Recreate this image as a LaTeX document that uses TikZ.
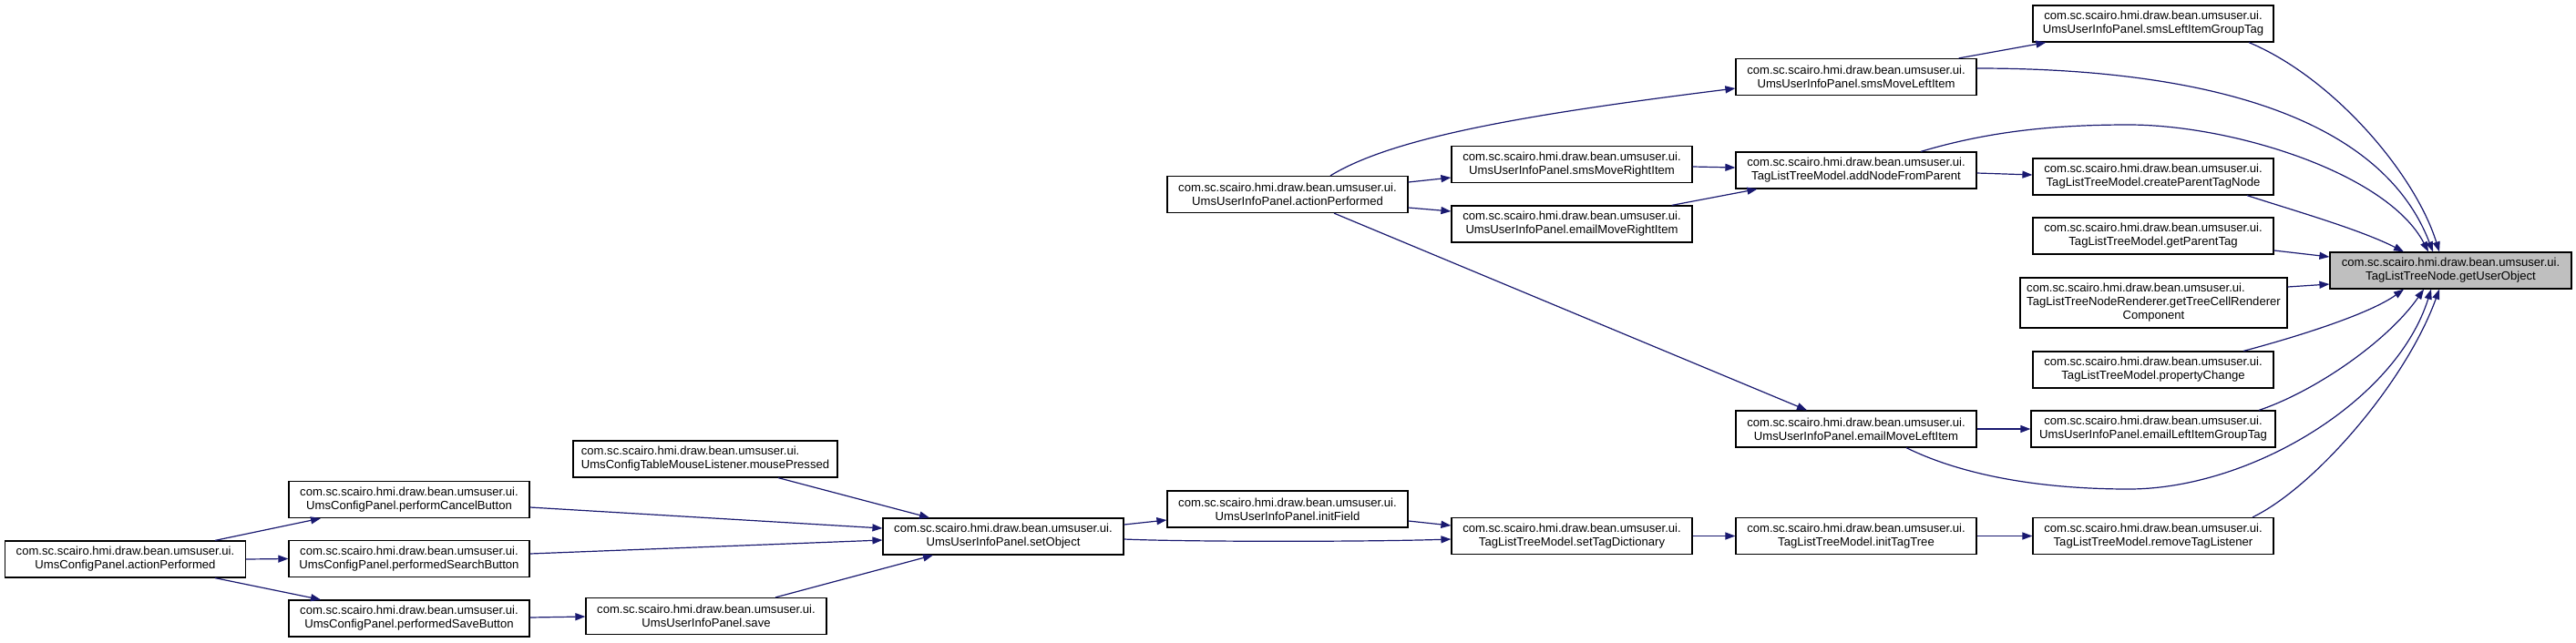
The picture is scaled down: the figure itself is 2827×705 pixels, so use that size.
\documentclass[tikz,border=0pt]{standalone}
\usepackage{fontspec}
\setmainfont{Liberation Sans}
\usetikzlibrary{arrows.meta,calc}
\definecolor{edgeblue}{HTML}{191970}
\definecolor{hlgray}{HTML}{BFBFBF}
\newcommand{\nf}{\fontsize{13.1}{15}\selectfont}
\newcommand{\pk}{com.sc.scairo.hmi.draw.bean.umsuser.ui.}
\begin{document}
\begin{tikzpicture}[x=1pt,y=-1pt,
  fn/.style={draw=black, line width=1.2pt, fill=white, rectangle, inner sep=0pt,
    minimum width=264pt, minimum height=40pt, align=center, font=\nf},
  target/.style={fn, fill=hlgray, minimum width=265pt},
  call/.style={draw=edgeblue, line width=1.2pt, -{Triangle[length=11pt,width=8pt]}}
]
\fill[white] (0,0) rectangle (2827,705);
\useasboundingbox (0,0) rectangle (2827,705);

% column 0
\node[fn] (ucpap) at (137.5,614) {\pk\\UmsConfigPanel.actionPerformed};
% column 1
\node[fn] (pcb) at (449,548.5) {\pk\\UmsConfigPanel.performCancelButton};
\node[fn] (psb) at (449,613.5) {\pk\\UmsConfigPanel.performedSearchButton};
\node[fn] (psvb) at (449,679) {\pk\\UmsConfigPanel.performedSaveButton};
% column 2
\node[fn, minimum width=290pt, align=left] (mp) at (774,504) {\pk\\UmsConfigTableMouseListener.mousePressed};
\node[fn] (save) at (775,676.5) {\pk\\UmsUserInfoPanel.save};
% column 3
\node[fn] (so) at (1101,589) {\pk\\UmsUserInfoPanel.setObject};
% column 4
\node[fn] (uipap) at (1413,213.5) {\pk\\UmsUserInfoPanel.actionPerformed};
\node[fn] (initf) at (1413,559) {\pk\\UmsUserInfoPanel.initField};
% column 5
\node[fn] (smsmri) at (1725,180.5) {\pk\\UmsUserInfoPanel.smsMoveRightItem};
\node[fn] (emri) at (1725,246) {\pk\\UmsUserInfoPanel.emailMoveRightItem};
\node[fn] (std) at (1725,588.5) {\pk\\TagListTreeModel.setTagDictionary};
% column 6
\node[fn] (smsmli) at (2037,84.5) {\pk\\UmsUserInfoPanel.smsMoveLeftItem};
\node[fn] (anfp) at (2037,187) {\pk\\TagListTreeModel.addNodeFromParent};
\node[fn] (emli) at (2037,471) {\pk\\UmsUserInfoPanel.emailMoveLeftItem};
\node[fn] (itt) at (2037,588.5) {\pk\\TagListTreeModel.initTagTree};
% column 7
\node[fn] (smslig) at (2363,26) {\pk\\UmsUserInfoPanel.smsLeftItemGroupTag};
\node[fn] (cptn) at (2363,194) {\pk\\TagListTreeModel.createParentTagNode};
\node[fn] (gpt) at (2363,259) {\pk\\TagListTreeModel.getParentTag};
\node[fn, minimum width=293pt, minimum height=55pt] (gtcrc) at (2363.5,332.5)
  {\begin{tabular}{@{}l@{}}\pk\\TagListTreeNodeRenderer.getTreeCellRenderer\\\multicolumn{1}{@{}c@{}}{Component}\end{tabular}};
\node[fn] (pc) at (2363,406) {\pk\\TagListTreeModel.propertyChange};
\node[fn, minimum width=268pt] (elig) at (2363,471) {\pk\\UmsUserInfoPanel.emailLeftItemGroupTag};
\node[fn] (rtl) at (2363,588.5) {\pk\\TagListTreeModel.removeTagListener};
% column 8
\node[target] (guo) at (2689.5,297) {\pk\\TagListTreeNode.getUserObject};

% edges into getUserObject
\draw[call] ($(smslig.south)+(105,0)$) .. controls (2560,85) and (2650,190) .. ($(guo.north)+(-12.5,0)$);
\draw[call] ($(smsmli.east)+(0,-9.5)$) .. controls (2400,75) and (2610,120) .. ($(guo.north)+(-19.5,0)$);
\draw[call] ($(anfp.north)+(71,0)$) .. controls (2180,145) and (2250,137) .. (2336,137)
  .. controls (2450,137) and (2620,190) .. ($(guo.north)+(-24.5,0)$);
\draw[call] ($(cptn.south)+(103,0)$) .. controls (2520,232) and (2590,252) .. ($(guo.north)+(-51.5,0)$);
\draw[call] ($(gpt.east)+(0,16)$) -- ($(guo.west)+(0,-15)$);
\draw[call] ($(gtcrc.east)+(0,-17.5)$) -- ($(guo.west)+(0,15)$);
\draw[call] ($(pc.north)+(99,0)$) .. controls (2520,370) and (2600,345) .. ($(guo.south)+(-51.5,0)$);
\draw[call] ($(elig.north)+(116,0)$) .. controls (2540,430) and (2620,375) .. ($(guo.south)+(-29.5,0)$);
\draw[call] ($(emli.south)+(55,0)$) .. controls (2160,525) and (2250,537) .. (2336,537)
  .. controls (2470,537) and (2630,440) .. ($(guo.south)+(-21.5,0)$);
\draw[call] ($(rtl.north)+(109,0)$) .. controls (2540,535) and (2640,420) .. ($(guo.south)+(-12.5,0)$);

% column 6 -> 7
\draw[call] ($(smsmli.north east)+(-20,0)$) -- ($(smslig.south west)+(15,0)$);
\draw[call] ($(anfp.east)+(0,3)$) -- ($(cptn.west)+(0,-2)$);
\draw[call] (emli.east) -- (elig.west);
\draw[call] (itt.east) -- (rtl.west);

% from UmsUserInfoPanel.actionPerformed
\draw[call] ($(uipap.north)+(47,0)$) .. controls (1530,150) and (1680,125) .. ($(smsmli.west)+(0,12.5)$);
\draw[call] ($(uipap.east)+(0,-13.5)$) -- ($(smsmri.west)+(0,14.5)$);
\draw[call] ($(uipap.east)+(0,14.5)$) -- ($(emri.west)+(0,-14)$);
\draw[call] ($(uipap.south)+(51,0)$) -- ($(emli.north)+(-54,0)$);

% column 5 -> 6
\draw[call] ($(smsmri.east)+(0,2.5)$) -- ($(anfp.west)+(0,-3)$);
\draw[call] ($(emri.north east)+(-23,0)$) -- ($(anfp.south west)+(24,0)$);
\draw[call] (std.east) -- (itt.west);

% lower chain
\draw[call] ($(initf.east)+(0,13)$) -- ($(std.west)+(0,-11.5)$);
\draw[call] ($(so.east)+(0,-13)$) -- ($(initf.west)+(0,12)$);
\draw[call] ($(so.east)+(0,3)$) .. controls (1300,595) and (1500,595) .. ($(std.west)+(0,3.5)$);
\draw[call] ($(mp.south)+(80,0)$) -- ($(so.north)+(-81,0)$);
\draw[call] ($(pcb.east)+(0,8.5)$) -- ($(so.west)+(0,-9)$);
\draw[call] ($(psb.east)+(0,-5.5)$) -- ($(so.west)+(0,4)$);
\draw[call] ($(save.north)+(76,0)$) -- ($(so.south)+(-77,0)$);
\draw[call] ($(ucpap.north)+(98.5,0)$) -- ($(pcb.south)+(-97,0)$);
\draw[call] (ucpap.east) -- (psb.west);
\draw[call] ($(ucpap.south)+(98.5,0)$) -- ($(psvb.north)+(-97,0)$);
\draw[call] ($(psvb.east)+(0,-1)$) -- ($(save.west)+(0,0.5)$);
\end{tikzpicture}
\end{document}
